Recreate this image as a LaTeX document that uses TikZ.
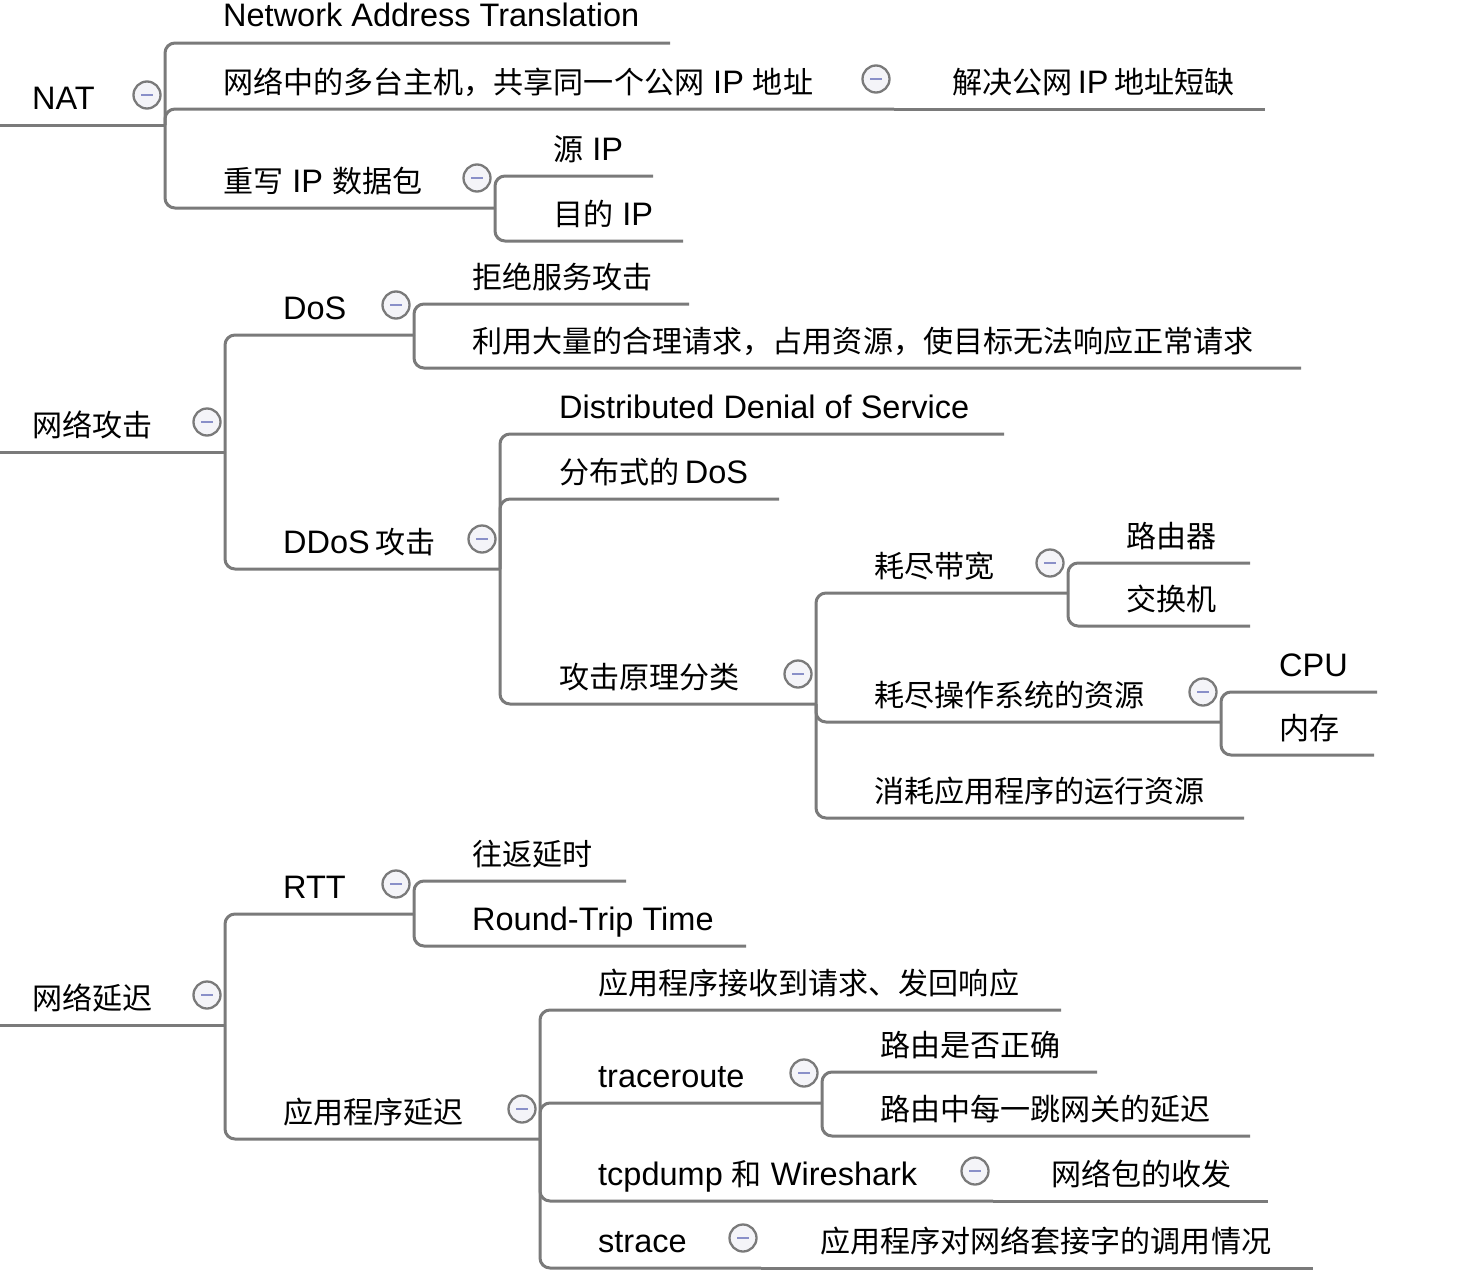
\documentclass[tikz,border=0pt]{standalone}
\usepackage{fontspec}
\setmainfont{Liberation Sans}
\newfontfamily\cjk{Noto Sans CJK SC}[Scale=0.925]
\newcommand\zh[1]{{\cjk #1}}
\definecolor{linec}{HTML}{7A7A7A}
\definecolor{circfill}{HTML}{F4F4F8}
\definecolor{minusc}{HTML}{8A90C8}
\tikzset{
  txt/.style={anchor=base west, inner sep=0pt, font=\fontsize{32.5}{38}\selectfont, text=black},
  link/.style={draw=linec, line width=3pt, rounded corners=10pt},
  collapse/.style={circle, draw=linec, line width=2.3pt, fill=circfill, minimum size=27pt, inner sep=0pt,
    path picture={\draw[minusc, line width=2.6pt] ([xshift=-6pt]path picture bounding box.center) -- ([xshift=6pt]path picture bounding box.center);}}
}
\newcommand\mm[5]{\node[txt] (#1) at (#2,#3-16) {#5};\coordinate (#1-e) at (#4,#3);}
\newcommand\cl[3]{\node[collapse] (#1-c) at (#2-18,#3-30) {};}
\begin{document}
\begin{tikzpicture}[x=1pt,y=-1pt]
\useasboundingbox (0,0) rectangle (1478,1282);
% roots
\coordinate (nat-s) at (0,125);
\coordinate (atk-s) at (0,452);
\coordinate (lat-s) at (0,1025);
\mm{nat}{32}{125}{165}{NAT}
\mm{atk}{32}{452}{225}{\zh{网络攻击}}
\mm{lat}{32}{1025}{225}{\zh{网络延迟}}
% NAT
\mm{nat1}{223}{43}{670}{Network Address Translation}
\mm{nat2}{223}{109}{894}{\zh{网络中的多台主机，共享同一个公网} IP \zh{地址}}
\mm{nat2a}{952}{109}{1265}{\zh{解决公网}\,IP\,\zh{地址短缺}}
\mm{nat3}{223}{208}{495}{\zh{重写} IP \zh{数据包}}
\mm{nat3a}{553}{176}{653}{\zh{源} IP}
\mm{nat3b}{553}{241}{683}{\zh{目的} IP}
% attack
\mm{dos}{283}{335}{414}{DoS}
\mm{dosa}{472}{304}{689}{\zh{拒绝服务攻击}}
\mm{dosb}{472}{368}{1301}{\zh{利用大量的合理请求，占用资源，使目标无法响应正常请求}}
\mm{ddos}{283}{569}{500}{DDoS\,\zh{攻击}}
\mm{ddosa}{559}{434}{1004}{Distributed Denial of Service}
\mm{ddosb}{559}{499}{779}{\zh{分布式的}\,DoS}
\mm{ddosc}{559}{704}{816}{\zh{攻击原理分类}}
\mm{bw}{874}{593}{1068}{\zh{耗尽带宽}}
\mm{bwa}{1126}{563}{1250}{\zh{路由器}}
\mm{bwb}{1126}{626}{1250}{\zh{交换机}}
\mm{os}{874}{722}{1221}{\zh{耗尽操作系统的资源}}
\mm{osa}{1279}{692}{1377}{CPU}
\mm{osb}{1279}{755}{1374}{\zh{内存}}
\mm{app}{874}{818}{1244}{\zh{消耗应用程序的运行资源}}
% latency
\mm{rtt}{283}{914}{414}{RTT}
\mm{rtta}{472}{881}{626}{\zh{往返延时}}
\mm{rttb}{472}{946}{746}{Round-Trip Time}
\mm{appd}{283}{1139}{540}{\zh{应用程序延迟}}
\mm{appda}{598}{1010}{1061}{\zh{应用程序接收到请求、发回响应}}
\mm{tr}{598}{1103}{822}{traceroute}
\mm{tra}{880}{1072}{1097}{\zh{路由是否正确}}
\mm{trb}{880}{1136}{1250}{\zh{路由中每一跳网关的延迟}}
\mm{tcp}{598}{1201}{993}{tcpdump \zh{和} Wireshark}
\mm{tcpa}{1051}{1201}{1268}{\zh{网络包的收发}}
\mm{st}{598}{1268}{761}{strace}
\mm{sta}{820}{1268}{1313}{\zh{应用程序对网络套接字的调用情况}}
% connectors
\draw[link] (nat-s) -- (nat-e);
\draw[link] (atk-s) -- (atk-e);
\draw[link] (lat-s) -- (lat-e);
\foreach \p/\c in {nat/nat1, nat/nat2, nat/nat3, nat3/nat3a, nat3/nat3b,
  atk/dos, atk/ddos, dos/dosa, dos/dosb, ddos/ddosa, ddos/ddosb, ddos/ddosc,
  ddosc/bw, ddosc/os, ddosc/app, bw/bwa, bw/bwb, os/osa, os/osb,
  lat/rtt, lat/appd, rtt/rtta, rtt/rttb, appd/appda, appd/tr, appd/tcp, appd/st,
  tr/tra, tr/trb}
  \draw[link] (\p-e) |- (\c-e);
\draw[link] (nat2-e) -- (nat2a-e);
\draw[link] (tcp-e) -- (tcpa-e);
\draw[link] (st-e) -- (sta-e);
% collapse markers
\cl{nat}{165}{125}
\cl{atk}{225}{452}
\cl{lat}{225}{1025}
\cl{nat2}{894}{109}
\cl{nat3}{495}{208}
\cl{dos}{414}{335}
\cl{ddos}{500}{569}
\cl{ddosc}{816}{704}
\cl{bw}{1068}{593}
\cl{os}{1221}{722}
\cl{rtt}{414}{914}
\cl{appd}{540}{1139}
\cl{tr}{822}{1103}
\cl{tcp}{993}{1201}
\cl{st}{761}{1268}
\end{tikzpicture}
\end{document}
